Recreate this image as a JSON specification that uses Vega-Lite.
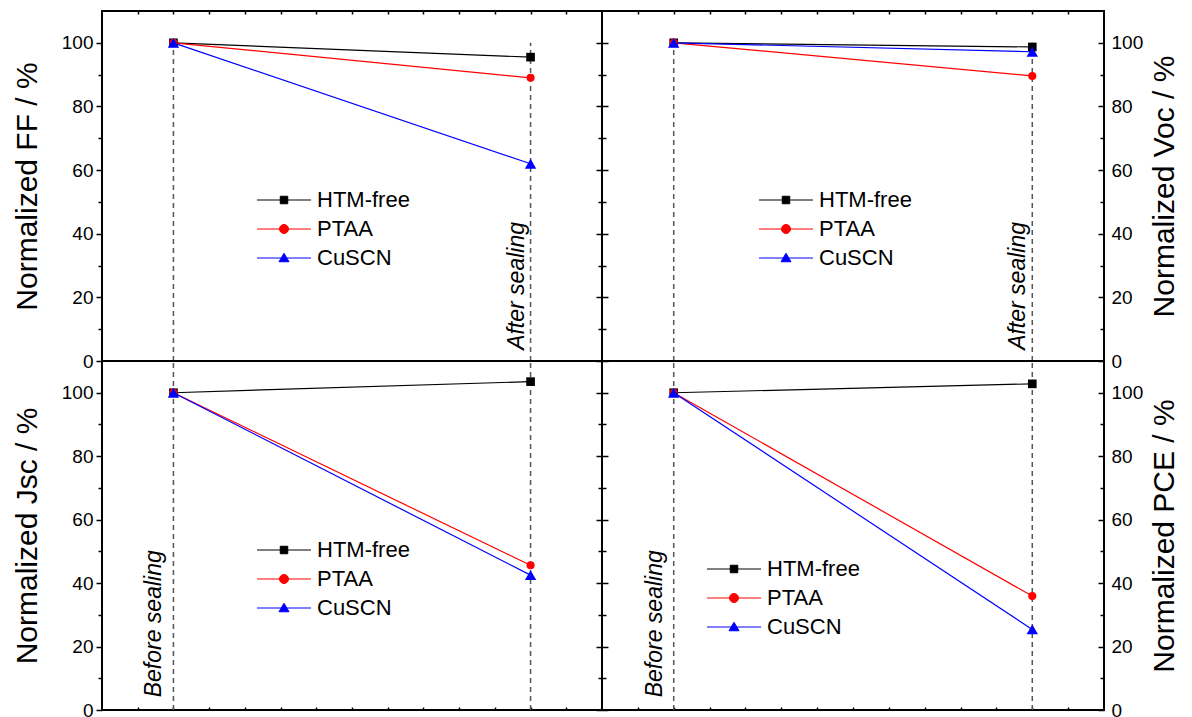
{
  "$schema": "https://vega.github.io/schema/vega-lite/v6.json",
  "background": "white",
  "autosize": {"type": "pad"},
  "padding": {"left": 11, "top": 9, "right": 5, "bottom": 5},
  "config": {
    "font": "Liberation Sans",
    "view": {"stroke": "#000000", "strokeWidth": 2},
    "axis": {"grid": false, "domain": false, "labelFont": "Liberation Sans", "labelFontSize": 19, "labelColor": "#000000", "tickColor": "#000000", "tickWidth": 1.5, "titleFont": "Liberation Sans", "titleFontSize": 30, "titleFontWeight": "normal", "titleColor": "#000000", "labelOverlap": false},
    "legend": {"padding": 0, "labelFont": "Liberation Sans", "labelFontSize": 22, "labelColor": "#000000", "labelLimit": 400, "symbolSize": 100, "symbolStrokeWidth": 1, "labelOffset": 22, "rowPadding": 7, "title": null}
  },
  "datasets": {
    "d": [
      {"panel": "FF", "series": "HTM-free", "stage": 1, "value": 100},
      {"panel": "FF", "series": "PTAA", "stage": 1, "value": 100},
      {"panel": "FF", "series": "CuSCN", "stage": 1, "value": 100},
      {"panel": "FF", "series": "HTM-free", "stage": 6, "value": 95.5},
      {"panel": "FF", "series": "PTAA", "stage": 6, "value": 89.0},
      {"panel": "FF", "series": "CuSCN", "stage": 6, "value": 62.0},
      {"panel": "Voc", "series": "HTM-free", "stage": 1, "value": 100},
      {"panel": "Voc", "series": "PTAA", "stage": 1, "value": 100},
      {"panel": "Voc", "series": "CuSCN", "stage": 1, "value": 100},
      {"panel": "Voc", "series": "HTM-free", "stage": 6, "value": 98.7},
      {"panel": "Voc", "series": "PTAA", "stage": 6, "value": 89.6},
      {"panel": "Voc", "series": "CuSCN", "stage": 6, "value": 97.2},
      {"panel": "Jsc", "series": "HTM-free", "stage": 1, "value": 100},
      {"panel": "Jsc", "series": "PTAA", "stage": 1, "value": 100},
      {"panel": "Jsc", "series": "CuSCN", "stage": 1, "value": 100},
      {"panel": "Jsc", "series": "HTM-free", "stage": 6, "value": 103.5},
      {"panel": "Jsc", "series": "PTAA", "stage": 6, "value": 45.6},
      {"panel": "Jsc", "series": "CuSCN", "stage": 6, "value": 42.5},
      {"panel": "PCE", "series": "HTM-free", "stage": 1, "value": 100},
      {"panel": "PCE", "series": "PTAA", "stage": 1, "value": 100},
      {"panel": "PCE", "series": "CuSCN", "stage": 1, "value": 100},
      {"panel": "PCE", "series": "HTM-free", "stage": 6, "value": 102.8},
      {"panel": "PCE", "series": "PTAA", "stage": 6, "value": 35.9},
      {"panel": "PCE", "series": "CuSCN", "stage": 6, "value": 25.4}
    ],
    "stages": [{"stage": 1}, {"stage": 6}]
  },
  "columns": 2,
  "spacing": 0,
  "bounds": "flush",
  "resolve": {"legend": {"color": "independent"}},
  "concat": [
    {
      "width": 500, "height": 350,
      "layer": [
        {"data": {"name": "stages"}, "mark": {"type": "rule", "color": "#555555", "strokeDash": [5, 4], "strokeWidth": 1.5},
         "encoding": {"x": {"field": "stage", "type": "quantitative", "scale": {"domain": [0, 7]}, "axis": null},
                      "y": {"datum": 0, "type": "quantitative", "scale": {"domain": [0, 110]}, "axis": null},
                      "y2": {"datum": 100}}},
        {"data": {"name": "d"}, "transform": [{"filter": "datum.panel === 'FF'"}],
         "mark": {"type": "line", "strokeWidth": 1.2},
         "encoding": {
           "x": {"field": "stage", "type": "quantitative", "scale": {"domain": [0, 7]}, "axis": {"orient": "top", "values": [0.5, 1, 1.5, 2, 2.5, 3, 3.5, 4, 4.5, 5, 5.5, 6, 6.5], "labels": false, "tickSize": -3, "title": null}},
           "y": {"field": "value", "type": "quantitative", "scale": {"domain": [0, 110]}, "axis": {"orient": "left", "values": [0, 10, 20, 30, 40, 50, 60, 70, 80, 90, 100], "labelExpr": "datum.value % 20 === 0 ? datum.label : ''", "tickSize": {"condition": {"test": "datum.value % 20 === 0", "value": 6}, "value": 4}, "labelPadding": 3, "title": "Normalized FF / %", "titlePadding": 19}},
           "color": {"field": "series", "type": "nominal", "scale": {"domain": ["HTM-free", "PTAA", "CuSCN"], "range": ["#000000", "#ff0000", "#0000ff"]},
             "legend": {"orient": "none", "legendX": 171, "legendY": 178,
               "encode": {"symbols": {"update": {
                 "shape": {"signal": "datum.value === 'HTM-free' ? 'M-5.4,0H5.4M-0.75,-0.75H0.75V0.75H-0.75Z' : datum.value === 'PTAA' ? 'M-5.4,0H5.4M-0.9,0A0.9,0.9,0,1,0,0.9,0A0.9,0.9,0,1,0,-0.9,0Z' : 'M-5.4,0H5.4M0,-0.95L1,0.75H-1Z'"},
                 "fill": {"signal": "datum.value === 'HTM-free' ? '#000000' : datum.value === 'PTAA' ? '#ff0000' : '#0000ff'"},
                 "stroke": {"signal": "datum.value === 'HTM-free' ? '#000000' : datum.value === 'PTAA' ? '#ff0000' : '#0000ff'"},
                 "opacity": {"value": 1}, "fillOpacity": {"value": 1}, "strokeWidth": {"value": 1}}}}}}
         }},
        {"data": {"name": "d"}, "transform": [{"filter": "datum.panel === 'FF'"}],
         "mark": {"type": "point", "filled": true, "opacity": 1},
         "encoding": {
           "x": {"field": "stage", "type": "quantitative", "scale": {"domain": [0, 7]}, "axis": null},
           "y": {"field": "value", "type": "quantitative", "scale": {"domain": [0, 110]}, "axis": {"orient": "right", "values": [0, 10, 20, 30, 40, 50, 60, 70, 80, 90, 100], "labels": false, "tickSize": {"condition": {"test": "datum.value % 20 === 0", "value": -6}, "value": -4}, "title": null}},
           "color": {"field": "series", "type": "nominal", "legend": null},
           "shape": {"field": "series", "type": "nominal", "scale": {"domain": ["HTM-free", "PTAA", "CuSCN"], "range": ["square", "circle", "triangle-up"]}, "legend": null},
           "size": {"field": "series", "type": "nominal", "scale": {"type": "ordinal", "domain": ["HTM-free", "PTAA", "CuSCN"], "range": [75, 65, 130]}, "legend": null}
         }},
        {"data": {"values": [{"label": "After sealing"}]},
         "mark": {"type": "text", "font": "Liberation Sans", "fontStyle": "italic", "fontSize": 23, "angle": 270, "align": "left", "baseline": "alphabetic", "dy": -7, "color": "#000000"},
         "encoding": {"x": {"datum": 6, "type": "quantitative", "scale": {"domain": [0, 7]}, "axis": null},
                      "y": {"datum": 3.5, "type": "quantitative", "scale": {"domain": [0, 110]}, "axis": null},
                      "text": {"field": "label"}}}
      ],
      "resolve": {"axis": {"x": "independent", "y": "independent"}}
    },
    {
      "width": 502, "height": 350,
      "layer": [
        {"data": {"name": "stages"}, "mark": {"type": "rule", "color": "#555555", "strokeDash": [5, 4], "strokeWidth": 1.5},
         "encoding": {"x": {"field": "stage", "type": "quantitative", "scale": {"domain": [0, 7]}, "axis": null},
                      "y": {"datum": 0, "type": "quantitative", "scale": {"domain": [0, 110]}, "axis": null},
                      "y2": {"datum": 100}}},
        {"data": {"name": "d"}, "transform": [{"filter": "datum.panel === 'Voc'"}],
         "mark": {"type": "line", "strokeWidth": 1.2},
         "encoding": {
           "x": {"field": "stage", "type": "quantitative", "scale": {"domain": [0, 7]}, "axis": {"orient": "top", "values": [0.5, 1, 1.5, 2, 2.5, 3, 3.5, 4, 4.5, 5, 5.5, 6, 6.5], "labels": false, "tickSize": -3, "title": null}},
           "y": {"field": "value", "type": "quantitative", "scale": {"domain": [0, 110]}, "axis": {"orient": "left", "values": [0, 10, 20, 30, 40, 50, 60, 70, 80, 90, 100], "labels": false, "tickSize": {"condition": {"test": "datum.value % 20 === 0", "value": -6}, "value": -4}, "title": null}},
           "color": {"field": "series", "type": "nominal", "scale": {"domain": ["HTM-free", "PTAA", "CuSCN"], "range": ["#000000", "#ff0000", "#0000ff"]},
             "legend": {"orient": "none", "legendX": 173, "legendY": 178,
               "encode": {"symbols": {"update": {
                 "shape": {"signal": "datum.value === 'HTM-free' ? 'M-5.4,0H5.4M-0.75,-0.75H0.75V0.75H-0.75Z' : datum.value === 'PTAA' ? 'M-5.4,0H5.4M-0.9,0A0.9,0.9,0,1,0,0.9,0A0.9,0.9,0,1,0,-0.9,0Z' : 'M-5.4,0H5.4M0,-0.95L1,0.75H-1Z'"},
                 "fill": {"signal": "datum.value === 'HTM-free' ? '#000000' : datum.value === 'PTAA' ? '#ff0000' : '#0000ff'"},
                 "stroke": {"signal": "datum.value === 'HTM-free' ? '#000000' : datum.value === 'PTAA' ? '#ff0000' : '#0000ff'"},
                 "opacity": {"value": 1}, "fillOpacity": {"value": 1}, "strokeWidth": {"value": 1}}}}}}
         }},
        {"data": {"name": "d"}, "transform": [{"filter": "datum.panel === 'Voc'"}],
         "mark": {"type": "point", "filled": true, "opacity": 1},
         "encoding": {
           "x": {"field": "stage", "type": "quantitative", "scale": {"domain": [0, 7]}, "axis": null},
           "y": {"field": "value", "type": "quantitative", "scale": {"domain": [0, 110]}, "axis": {"orient": "right", "values": [0, 10, 20, 30, 40, 50, 60, 70, 80, 90, 100], "labelExpr": "datum.value % 20 === 0 ? datum.label : ''", "tickSize": {"condition": {"test": "datum.value % 20 === 0", "value": -6}, "value": -4}, "labelPadding": 13, "title": "Normalized Voc / %", "titleAngle": 270, "titleBaseline": "top", "titlePadding": 7}},
           "color": {"field": "series", "type": "nominal", "legend": null},
           "shape": {"field": "series", "type": "nominal", "scale": {"domain": ["HTM-free", "PTAA", "CuSCN"], "range": ["square", "circle", "triangle-up"]}, "legend": null},
           "size": {"field": "series", "type": "nominal", "scale": {"type": "ordinal", "domain": ["HTM-free", "PTAA", "CuSCN"], "range": [75, 65, 130]}, "legend": null}
         }},
        {"data": {"values": [{"label": "After sealing"}]},
         "mark": {"type": "text", "font": "Liberation Sans", "fontStyle": "italic", "fontSize": 23, "angle": 270, "align": "left", "baseline": "alphabetic", "dy": -7, "color": "#000000"},
         "encoding": {"x": {"datum": 6, "type": "quantitative", "scale": {"domain": [0, 7]}, "axis": null},
                      "y": {"datum": 3.5, "type": "quantitative", "scale": {"domain": [0, 110]}, "axis": null},
                      "text": {"field": "label"}}}
      ],
      "resolve": {"axis": {"x": "independent", "y": "independent"}}
    },
    {
      "width": 500, "height": 349,
      "layer": [
        {"data": {"name": "stages"}, "mark": {"type": "rule", "color": "#555555", "strokeDash": [5, 4], "strokeWidth": 1.5},
         "encoding": {"x": {"field": "stage", "type": "quantitative", "scale": {"domain": [0, 7]}, "axis": null},
                      "y": {"datum": 0, "type": "quantitative", "scale": {"domain": [0, 110]}, "axis": null},
                      "y2": {"datum": 110}}},
        {"data": {"name": "d"}, "transform": [{"filter": "datum.panel === 'Jsc'"}],
         "mark": {"type": "line", "strokeWidth": 1.2},
         "encoding": {
           "x": {"field": "stage", "type": "quantitative", "scale": {"domain": [0, 7]}, "axis": {"orient": "bottom", "values": [0.5, 1, 1.5, 2, 2.5, 3, 3.5, 4, 4.5, 5, 5.5, 6, 6.5], "labels": false, "tickSize": -3, "title": null}},
           "y": {"field": "value", "type": "quantitative", "scale": {"domain": [0, 110]}, "axis": {"orient": "left", "values": [0, 10, 20, 30, 40, 50, 60, 70, 80, 90, 100], "labelExpr": "datum.value % 20 === 0 ? datum.label : ''", "tickSize": {"condition": {"test": "datum.value % 20 === 0", "value": 6}, "value": 4}, "labelPadding": 3, "title": "Normalized Jsc / %", "titlePadding": 19}},
           "color": {"field": "series", "type": "nominal", "scale": {"domain": ["HTM-free", "PTAA", "CuSCN"], "range": ["#000000", "#ff0000", "#0000ff"]},
             "legend": {"orient": "none", "legendX": 171, "legendY": 178,
               "encode": {"symbols": {"update": {
                 "shape": {"signal": "datum.value === 'HTM-free' ? 'M-5.4,0H5.4M-0.75,-0.75H0.75V0.75H-0.75Z' : datum.value === 'PTAA' ? 'M-5.4,0H5.4M-0.9,0A0.9,0.9,0,1,0,0.9,0A0.9,0.9,0,1,0,-0.9,0Z' : 'M-5.4,0H5.4M0,-0.95L1,0.75H-1Z'"},
                 "fill": {"signal": "datum.value === 'HTM-free' ? '#000000' : datum.value === 'PTAA' ? '#ff0000' : '#0000ff'"},
                 "stroke": {"signal": "datum.value === 'HTM-free' ? '#000000' : datum.value === 'PTAA' ? '#ff0000' : '#0000ff'"},
                 "opacity": {"value": 1}, "fillOpacity": {"value": 1}, "strokeWidth": {"value": 1}}}}}}
         }},
        {"data": {"name": "d"}, "transform": [{"filter": "datum.panel === 'Jsc'"}],
         "mark": {"type": "point", "filled": true, "opacity": 1},
         "encoding": {
           "x": {"field": "stage", "type": "quantitative", "scale": {"domain": [0, 7]}, "axis": null},
           "y": {"field": "value", "type": "quantitative", "scale": {"domain": [0, 110]}, "axis": {"orient": "right", "values": [0, 10, 20, 30, 40, 50, 60, 70, 80, 90, 100], "labels": false, "tickSize": {"condition": {"test": "datum.value % 20 === 0", "value": -6}, "value": -4}, "title": null}},
           "color": {"field": "series", "type": "nominal", "legend": null},
           "shape": {"field": "series", "type": "nominal", "scale": {"domain": ["HTM-free", "PTAA", "CuSCN"], "range": ["square", "circle", "triangle-up"]}, "legend": null},
           "size": {"field": "series", "type": "nominal", "scale": {"type": "ordinal", "domain": ["HTM-free", "PTAA", "CuSCN"], "range": [75, 65, 130]}, "legend": null}
         }},
        {"data": {"values": [{"label": "Before sealing"}]},
         "mark": {"type": "text", "font": "Liberation Sans", "fontStyle": "italic", "fontSize": 23, "angle": 270, "align": "left", "baseline": "alphabetic", "dy": -12, "color": "#000000"},
         "encoding": {"x": {"datum": 1, "type": "quantitative", "scale": {"domain": [0, 7]}, "axis": null},
                      "y": {"datum": 4, "type": "quantitative", "scale": {"domain": [0, 110]}, "axis": null},
                      "text": {"field": "label"}}}
      ],
      "resolve": {"axis": {"x": "independent", "y": "independent"}}
    },
    {
      "width": 502, "height": 349,
      "layer": [
        {"data": {"name": "stages"}, "mark": {"type": "rule", "color": "#555555", "strokeDash": [5, 4], "strokeWidth": 1.5},
         "encoding": {"x": {"field": "stage", "type": "quantitative", "scale": {"domain": [0, 7]}, "axis": null},
                      "y": {"datum": 0, "type": "quantitative", "scale": {"domain": [0, 110]}, "axis": null},
                      "y2": {"datum": 110}}},
        {"data": {"name": "d"}, "transform": [{"filter": "datum.panel === 'PCE'"}],
         "mark": {"type": "line", "strokeWidth": 1.2},
         "encoding": {
           "x": {"field": "stage", "type": "quantitative", "scale": {"domain": [0, 7]}, "axis": {"orient": "bottom", "values": [0.5, 1, 1.5, 2, 2.5, 3, 3.5, 4, 4.5, 5, 5.5, 6, 6.5], "labels": false, "tickSize": -3, "title": null}},
           "y": {"field": "value", "type": "quantitative", "scale": {"domain": [0, 110]}, "axis": {"orient": "left", "values": [0, 10, 20, 30, 40, 50, 60, 70, 80, 90, 100], "labels": false, "tickSize": {"condition": {"test": "datum.value % 20 === 0", "value": -6}, "value": -4}, "title": null}},
           "color": {"field": "series", "type": "nominal", "scale": {"domain": ["HTM-free", "PTAA", "CuSCN"], "range": ["#000000", "#ff0000", "#0000ff"]},
             "legend": {"orient": "none", "legendX": 121, "legendY": 197,
               "encode": {"symbols": {"update": {
                 "shape": {"signal": "datum.value === 'HTM-free' ? 'M-5.4,0H5.4M-0.75,-0.75H0.75V0.75H-0.75Z' : datum.value === 'PTAA' ? 'M-5.4,0H5.4M-0.9,0A0.9,0.9,0,1,0,0.9,0A0.9,0.9,0,1,0,-0.9,0Z' : 'M-5.4,0H5.4M0,-0.95L1,0.75H-1Z'"},
                 "fill": {"signal": "datum.value === 'HTM-free' ? '#000000' : datum.value === 'PTAA' ? '#ff0000' : '#0000ff'"},
                 "stroke": {"signal": "datum.value === 'HTM-free' ? '#000000' : datum.value === 'PTAA' ? '#ff0000' : '#0000ff'"},
                 "opacity": {"value": 1}, "fillOpacity": {"value": 1}, "strokeWidth": {"value": 1}}}}}}
         }},
        {"data": {"name": "d"}, "transform": [{"filter": "datum.panel === 'PCE'"}],
         "mark": {"type": "point", "filled": true, "opacity": 1},
         "encoding": {
           "x": {"field": "stage", "type": "quantitative", "scale": {"domain": [0, 7]}, "axis": null},
           "y": {"field": "value", "type": "quantitative", "scale": {"domain": [0, 110]}, "axis": {"orient": "right", "values": [0, 10, 20, 30, 40, 50, 60, 70, 80, 90, 100], "labelExpr": "datum.value % 20 === 0 ? datum.label : ''", "tickSize": {"condition": {"test": "datum.value % 20 === 0", "value": -6}, "value": -4}, "labelPadding": 13, "title": "Normalized PCE / %", "titleAngle": 270, "titleBaseline": "top", "titlePadding": 7}},
           "color": {"field": "series", "type": "nominal", "legend": null},
           "shape": {"field": "series", "type": "nominal", "scale": {"domain": ["HTM-free", "PTAA", "CuSCN"], "range": ["square", "circle", "triangle-up"]}, "legend": null},
           "size": {"field": "series", "type": "nominal", "scale": {"type": "ordinal", "domain": ["HTM-free", "PTAA", "CuSCN"], "range": [75, 65, 130]}, "legend": null}
         }},
        {"data": {"values": [{"label": "Before sealing"}]},
         "mark": {"type": "text", "font": "Liberation Sans", "fontStyle": "italic", "fontSize": 23, "angle": 270, "align": "left", "baseline": "alphabetic", "dy": -12, "color": "#000000"},
         "encoding": {"x": {"datum": 1, "type": "quantitative", "scale": {"domain": [0, 7]}, "axis": null},
                      "y": {"datum": 4, "type": "quantitative", "scale": {"domain": [0, 110]}, "axis": null},
                      "text": {"field": "label"}}}
      ],
      "resolve": {"axis": {"x": "independent", "y": "independent"}}
    }
  ]
}
